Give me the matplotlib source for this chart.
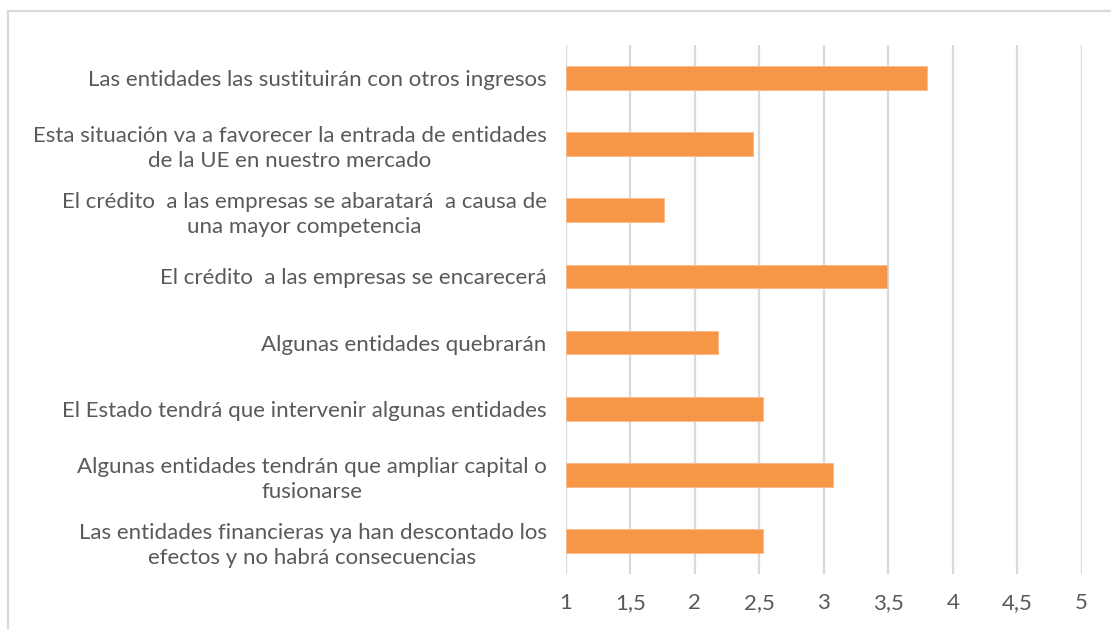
import matplotlib
matplotlib.use("Agg")
import matplotlib.pyplot as plt
from matplotlib.patches import Rectangle

# data, top to bottom as in the picture
labels = [
    "Las entidades las sustituirán con otros ingresos",
    "Esta situación va a favorecer la entrada de entidades\nde la UE en nuestro mercado",
    "El crédito  a las empresas se abaratará  a causa de\nuna mayor competencia",
    "El crédito  a las empresas se encarecerá",
    "Algunas entidades quebrarán",
    "El Estado tendrá que intervenir algunas entidades",
    "Algunas entidades tendrán que ampliar capital o\nfusionarse",
    "Las entidades financieras ya han descontado los\nefectos y no habrá consecuencias",
]
values = [3.80, 2.45, 1.76, 3.49, 2.18, 2.53, 3.07, 2.53]
xticks = [1, 1.5, 2, 2.5, 3, 3.5, 4, 4.5, 5]
xtick_labels = ["1", "1,5", "2", "2,5", "3", "3,5", "4", "4,5", "5"]

plt.rcParams['font.family'] = ['Lato', 'DejaVu Sans']
text_col = '#595959'
grid_col = '#d9d9d9'

fig = plt.figure(figsize=(11.11, 6.29), dpi=100)
ax = fig.add_axes([566 / 1111, 1 - 574 / 629, (1081.7 - 566) / 1111, (574 - 45) / 629])

# outer chart border (cut off on right and bottom)
fig.patches.append(Rectangle((8 / 1111, -0.05), 1.1, 1 - 10.5 / 629 + 0.05,
                             transform=fig.transFigure, fill=False,
                             edgecolor=grid_col, linewidth=1.6))

pos = list(range(len(labels)))[::-1]
ax.barh(pos, [v - 1 for v in values], left=1, height=0.36, color='#F79646',
        edgecolor='#FAB98A', linewidth=0.6, zorder=3)

ax.set_xlim(1, 5)
ax.set_ylim(-0.5, len(labels) - 0.5)
ax.set_xticks(xticks)
ax.set_xticklabels(xtick_labels)
ax.set_yticks(pos)
ax.set_yticklabels(labels, multialignment='center', linespacing=1.3)

for x in xticks:
    ax.axvline(x, color=grid_col, linewidth=1.6, zorder=1)

for s in ax.spines.values():
    s.set_visible(False)
ax.tick_params(axis='both', length=0, colors=text_col, labelsize=16)
ax.tick_params(axis='x', pad=14)
ax.tick_params(axis='y', pad=14)

fig.savefig('out.png', dpi=100)
